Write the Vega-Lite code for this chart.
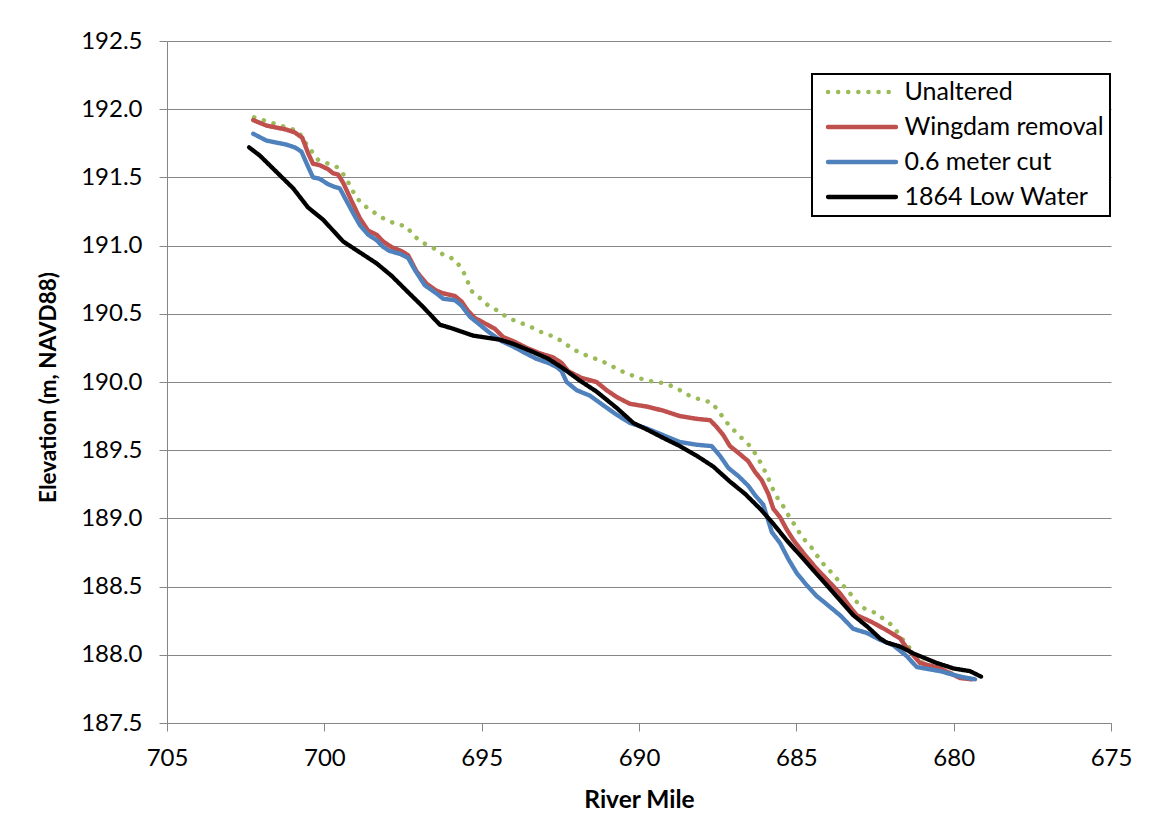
{
  "$schema": "https://vega.github.io/schema/vega-lite/v6.json",
  "width": 944,
  "height": 682,
  "autosize": {"type": "none"},
  "padding": {"left": 167, "top": 41, "right": 38, "bottom": 116},
  "background": "white",
  "config": {
    "view": {"stroke": null},
    "font": "Lato",
    "legend": {
      "orient": "none",
      "legendX": 645,
      "legendY": 33,
      "title": null,
      "strokeColor": "black",
      "strokeWidth": 2,
      "fillColor": "white",
      "padding": 6,
      "clipHeight": 24,
      "rowPadding": 10,
      "symbolType": "stroke",
      "symbolSize": 4624,
      "symbolStrokeWidth": 4.5,
      "symbolOffset": 7.5,
      "labelFontSize": 25,
      "labelColor": "black",
      "labelOffset": 6,
      "labelLimit": 0
    }
  },
  "data": {
    "values": [
      {"series": "Unaltered", "mile": 702.23, "elev": 191.94},
      {"series": "Unaltered", "mile": 701.52, "elev": 191.89},
      {"series": "Unaltered", "mile": 700.83, "elev": 191.84},
      {"series": "Unaltered", "mile": 700.62, "elev": 191.76},
      {"series": "Unaltered", "mile": 700.20, "elev": 191.63},
      {"series": "Unaltered", "mile": 699.54, "elev": 191.57},
      {"series": "Unaltered", "mile": 699.30, "elev": 191.49},
      {"series": "Unaltered", "mile": 698.98, "elev": 191.35},
      {"series": "Unaltered", "mile": 698.71, "elev": 191.29},
      {"series": "Unaltered", "mile": 698.40, "elev": 191.24},
      {"series": "Unaltered", "mile": 698.06, "elev": 191.19},
      {"series": "Unaltered", "mile": 697.73, "elev": 191.16},
      {"series": "Unaltered", "mile": 697.39, "elev": 191.14},
      {"series": "Unaltered", "mile": 697.15, "elev": 191.07},
      {"series": "Unaltered", "mile": 696.86, "elev": 191.02},
      {"series": "Unaltered", "mile": 696.52, "elev": 190.98},
      {"series": "Unaltered", "mile": 696.20, "elev": 190.93},
      {"series": "Unaltered", "mile": 695.87, "elev": 190.90},
      {"series": "Unaltered", "mile": 695.63, "elev": 190.83},
      {"series": "Unaltered", "mile": 695.48, "elev": 190.76},
      {"series": "Unaltered", "mile": 695.34, "elev": 190.67},
      {"series": "Unaltered", "mile": 695.08, "elev": 190.62},
      {"series": "Unaltered", "mile": 694.79, "elev": 190.56},
      {"series": "Unaltered", "mile": 694.47, "elev": 190.52},
      {"series": "Unaltered", "mile": 694.16, "elev": 190.47},
      {"series": "Unaltered", "mile": 693.84, "elev": 190.44},
      {"series": "Unaltered", "mile": 693.49, "elev": 190.41},
      {"series": "Unaltered", "mile": 693.15, "elev": 190.37},
      {"series": "Unaltered", "mile": 692.80, "elev": 190.34},
      {"series": "Unaltered", "mile": 692.45, "elev": 190.30},
      {"series": "Unaltered", "mile": 692.16, "elev": 190.25},
      {"series": "Unaltered", "mile": 691.85, "elev": 190.21},
      {"series": "Unaltered", "mile": 691.49, "elev": 190.18},
      {"series": "Unaltered", "mile": 691.15, "elev": 190.15},
      {"series": "Unaltered", "mile": 690.81, "elev": 190.11},
      {"series": "Unaltered", "mile": 690.47, "elev": 190.07},
      {"series": "Unaltered", "mile": 690.12, "elev": 190.04},
      {"series": "Unaltered", "mile": 689.76, "elev": 190.01},
      {"series": "Unaltered", "mile": 689.40, "elev": 190.00},
      {"series": "Unaltered", "mile": 689.05, "elev": 189.98},
      {"series": "Unaltered", "mile": 688.70, "elev": 189.94},
      {"series": "Unaltered", "mile": 688.40, "elev": 189.90},
      {"series": "Unaltered", "mile": 688.04, "elev": 189.87},
      {"series": "Unaltered", "mile": 687.69, "elev": 189.85},
      {"series": "Unaltered", "mile": 687.45, "elev": 189.78},
      {"series": "Unaltered", "mile": 687.24, "elev": 189.71},
      {"series": "Unaltered", "mile": 687.00, "elev": 189.65},
      {"series": "Unaltered", "mile": 686.74, "elev": 189.59},
      {"series": "Unaltered", "mile": 686.47, "elev": 189.53},
      {"series": "Unaltered", "mile": 686.26, "elev": 189.46},
      {"series": "Unaltered", "mile": 686.07, "elev": 189.38},
      {"series": "Unaltered", "mile": 685.92, "elev": 189.31},
      {"series": "Unaltered", "mile": 685.78, "elev": 189.23},
      {"series": "Unaltered", "mile": 685.60, "elev": 189.15},
      {"series": "Unaltered", "mile": 685.39, "elev": 189.08},
      {"series": "Unaltered", "mile": 685.22, "elev": 189.01},
      {"series": "Unaltered", "mile": 685.02, "elev": 188.94},
      {"series": "Unaltered", "mile": 684.81, "elev": 188.86},
      {"series": "Unaltered", "mile": 684.56, "elev": 188.80},
      {"series": "Unaltered", "mile": 684.35, "elev": 188.73},
      {"series": "Unaltered", "mile": 684.12, "elev": 188.66},
      {"series": "Unaltered", "mile": 683.87, "elev": 188.60},
      {"series": "Unaltered", "mile": 683.61, "elev": 188.53},
      {"series": "Unaltered", "mile": 683.35, "elev": 188.47},
      {"series": "Unaltered", "mile": 683.14, "elev": 188.40},
      {"series": "Unaltered", "mile": 682.84, "elev": 188.34},
      {"series": "Unaltered", "mile": 682.52, "elev": 188.31},
      {"series": "Unaltered", "mile": 682.21, "elev": 188.26},
      {"series": "Unaltered", "mile": 681.92, "elev": 188.21},
      {"series": "Unaltered", "mile": 681.68, "elev": 188.13},
      {"series": "Unaltered", "mile": 681.47, "elev": 188.07},
      {"series": "Unaltered", "mile": 681.07, "elev": 187.95},
      {"series": "Unaltered", "mile": 680.43, "elev": 187.90},
      {"series": "Unaltered", "mile": 679.80, "elev": 187.84},
      {"series": "Unaltered", "mile": 679.42, "elev": 187.82},

      {"series": "Wingdam removal", "mile": 702.26, "elev": 191.92},
      {"series": "Wingdam removal", "mile": 701.84, "elev": 191.88},
      {"series": "Wingdam removal", "mile": 701.20, "elev": 191.85},
      {"series": "Wingdam removal", "mile": 700.94, "elev": 191.83},
      {"series": "Wingdam removal", "mile": 700.70, "elev": 191.79},
      {"series": "Wingdam removal", "mile": 700.52, "elev": 191.68},
      {"series": "Wingdam removal", "mile": 700.36, "elev": 191.60},
      {"series": "Wingdam removal", "mile": 700.15, "elev": 191.59},
      {"series": "Wingdam removal", "mile": 699.88, "elev": 191.56},
      {"series": "Wingdam removal", "mile": 699.72, "elev": 191.53},
      {"series": "Wingdam removal", "mile": 699.56, "elev": 191.52},
      {"series": "Wingdam removal", "mile": 699.40, "elev": 191.46},
      {"series": "Wingdam removal", "mile": 699.14, "elev": 191.33},
      {"series": "Wingdam removal", "mile": 698.87, "elev": 191.20},
      {"series": "Wingdam removal", "mile": 698.61, "elev": 191.11},
      {"series": "Wingdam removal", "mile": 698.34, "elev": 191.08},
      {"series": "Wingdam removal", "mile": 698.13, "elev": 191.03},
      {"series": "Wingdam removal", "mile": 697.87, "elev": 190.99},
      {"series": "Wingdam removal", "mile": 697.55, "elev": 190.96},
      {"series": "Wingdam removal", "mile": 697.34, "elev": 190.93},
      {"series": "Wingdam removal", "mile": 697.07, "elev": 190.81},
      {"series": "Wingdam removal", "mile": 696.75, "elev": 190.72},
      {"series": "Wingdam removal", "mile": 696.44, "elev": 190.67},
      {"series": "Wingdam removal", "mile": 696.22, "elev": 190.65},
      {"series": "Wingdam removal", "mile": 695.85, "elev": 190.63},
      {"series": "Wingdam removal", "mile": 695.64, "elev": 190.59},
      {"series": "Wingdam removal", "mile": 695.43, "elev": 190.52},
      {"series": "Wingdam removal", "mile": 695.22, "elev": 190.47},
      {"series": "Wingdam removal", "mile": 694.90, "elev": 190.43},
      {"series": "Wingdam removal", "mile": 694.58, "elev": 190.39},
      {"series": "Wingdam removal", "mile": 694.32, "elev": 190.33},
      {"series": "Wingdam removal", "mile": 694.00, "elev": 190.30},
      {"series": "Wingdam removal", "mile": 693.57, "elev": 190.25},
      {"series": "Wingdam removal", "mile": 693.15, "elev": 190.21},
      {"series": "Wingdam removal", "mile": 692.73, "elev": 190.18},
      {"series": "Wingdam removal", "mile": 692.46, "elev": 190.14},
      {"series": "Wingdam removal", "mile": 692.25, "elev": 190.08},
      {"series": "Wingdam removal", "mile": 691.83, "elev": 190.03},
      {"series": "Wingdam removal", "mile": 691.35, "elev": 190.00},
      {"series": "Wingdam removal", "mile": 691.03, "elev": 189.94},
      {"series": "Wingdam removal", "mile": 690.71, "elev": 189.89},
      {"series": "Wingdam removal", "mile": 690.29, "elev": 189.84},
      {"series": "Wingdam removal", "mile": 689.76, "elev": 189.82},
      {"series": "Wingdam removal", "mile": 689.23, "elev": 189.79},
      {"series": "Wingdam removal", "mile": 688.70, "elev": 189.75},
      {"series": "Wingdam removal", "mile": 688.17, "elev": 189.73},
      {"series": "Wingdam removal", "mile": 687.74, "elev": 189.72},
      {"series": "Wingdam removal", "mile": 687.53, "elev": 189.67},
      {"series": "Wingdam removal", "mile": 687.32, "elev": 189.61},
      {"series": "Wingdam removal", "mile": 687.11, "elev": 189.53},
      {"series": "Wingdam removal", "mile": 686.84, "elev": 189.48},
      {"series": "Wingdam removal", "mile": 686.53, "elev": 189.42},
      {"series": "Wingdam removal", "mile": 686.31, "elev": 189.34},
      {"series": "Wingdam removal", "mile": 686.10, "elev": 189.28},
      {"series": "Wingdam removal", "mile": 685.89, "elev": 189.18},
      {"series": "Wingdam removal", "mile": 685.73, "elev": 189.07},
      {"series": "Wingdam removal", "mile": 685.52, "elev": 189.01},
      {"series": "Wingdam removal", "mile": 685.31, "elev": 188.92},
      {"series": "Wingdam removal", "mile": 685.09, "elev": 188.84},
      {"series": "Wingdam removal", "mile": 684.72, "elev": 188.73},
      {"series": "Wingdam removal", "mile": 684.35, "elev": 188.63},
      {"series": "Wingdam removal", "mile": 683.98, "elev": 188.54},
      {"series": "Wingdam removal", "mile": 683.61, "elev": 188.45},
      {"series": "Wingdam removal", "mile": 683.29, "elev": 188.35},
      {"series": "Wingdam removal", "mile": 683.08, "elev": 188.29},
      {"series": "Wingdam removal", "mile": 682.60, "elev": 188.24},
      {"series": "Wingdam removal", "mile": 682.13, "elev": 188.18},
      {"series": "Wingdam removal", "mile": 681.70, "elev": 188.12},
      {"series": "Wingdam removal", "mile": 681.49, "elev": 188.05},
      {"series": "Wingdam removal", "mile": 681.07, "elev": 187.94},
      {"series": "Wingdam removal", "mile": 680.43, "elev": 187.90},
      {"series": "Wingdam removal", "mile": 679.80, "elev": 187.83},
      {"series": "Wingdam removal", "mile": 679.42, "elev": 187.82},

      {"series": "0.6 meter cut", "mile": 702.26, "elev": 191.82},
      {"series": "0.6 meter cut", "mile": 701.84, "elev": 191.77},
      {"series": "0.6 meter cut", "mile": 701.20, "elev": 191.74},
      {"series": "0.6 meter cut", "mile": 700.94, "elev": 191.72},
      {"series": "0.6 meter cut", "mile": 700.73, "elev": 191.69},
      {"series": "0.6 meter cut", "mile": 700.52, "elev": 191.58},
      {"series": "0.6 meter cut", "mile": 700.36, "elev": 191.50},
      {"series": "0.6 meter cut", "mile": 700.15, "elev": 191.49},
      {"series": "0.6 meter cut", "mile": 699.88, "elev": 191.45},
      {"series": "0.6 meter cut", "mile": 699.67, "elev": 191.43},
      {"series": "0.6 meter cut", "mile": 699.51, "elev": 191.42},
      {"series": "0.6 meter cut", "mile": 699.30, "elev": 191.33},
      {"series": "0.6 meter cut", "mile": 699.09, "elev": 191.24},
      {"series": "0.6 meter cut", "mile": 698.87, "elev": 191.15},
      {"series": "0.6 meter cut", "mile": 698.61, "elev": 191.08},
      {"series": "0.6 meter cut", "mile": 698.34, "elev": 191.04},
      {"series": "0.6 meter cut", "mile": 698.13, "elev": 190.99},
      {"series": "0.6 meter cut", "mile": 697.92, "elev": 190.96},
      {"series": "0.6 meter cut", "mile": 697.60, "elev": 190.94},
      {"series": "0.6 meter cut", "mile": 697.34, "elev": 190.91},
      {"series": "0.6 meter cut", "mile": 697.12, "elev": 190.82},
      {"series": "0.6 meter cut", "mile": 696.81, "elev": 190.71},
      {"series": "0.6 meter cut", "mile": 696.44, "elev": 190.65},
      {"series": "0.6 meter cut", "mile": 696.22, "elev": 190.61},
      {"series": "0.6 meter cut", "mile": 695.85, "elev": 190.60},
      {"series": "0.6 meter cut", "mile": 695.64, "elev": 190.56},
      {"series": "0.6 meter cut", "mile": 695.38, "elev": 190.48},
      {"series": "0.6 meter cut", "mile": 695.06, "elev": 190.42},
      {"series": "0.6 meter cut", "mile": 694.74, "elev": 190.36},
      {"series": "0.6 meter cut", "mile": 694.37, "elev": 190.30},
      {"series": "0.6 meter cut", "mile": 694.00, "elev": 190.26},
      {"series": "0.6 meter cut", "mile": 693.68, "elev": 190.22},
      {"series": "0.6 meter cut", "mile": 693.26, "elev": 190.17},
      {"series": "0.6 meter cut", "mile": 692.88, "elev": 190.14},
      {"series": "0.6 meter cut", "mile": 692.62, "elev": 190.11},
      {"series": "0.6 meter cut", "mile": 692.46, "elev": 190.08},
      {"series": "0.6 meter cut", "mile": 692.30, "elev": 190.00},
      {"series": "0.6 meter cut", "mile": 691.98, "elev": 189.94},
      {"series": "0.6 meter cut", "mile": 691.56, "elev": 189.90},
      {"series": "0.6 meter cut", "mile": 691.14, "elev": 189.83},
      {"series": "0.6 meter cut", "mile": 690.71, "elev": 189.76},
      {"series": "0.6 meter cut", "mile": 690.29, "elev": 189.70},
      {"series": "0.6 meter cut", "mile": 689.76, "elev": 189.66},
      {"series": "0.6 meter cut", "mile": 689.23, "elev": 189.61},
      {"series": "0.6 meter cut", "mile": 688.70, "elev": 189.56},
      {"series": "0.6 meter cut", "mile": 688.17, "elev": 189.54},
      {"series": "0.6 meter cut", "mile": 687.69, "elev": 189.53},
      {"series": "0.6 meter cut", "mile": 687.43, "elev": 189.46},
      {"series": "0.6 meter cut", "mile": 687.16, "elev": 189.37},
      {"series": "0.6 meter cut", "mile": 686.84, "elev": 189.31},
      {"series": "0.6 meter cut", "mile": 686.53, "elev": 189.24},
      {"series": "0.6 meter cut", "mile": 686.31, "elev": 189.17},
      {"series": "0.6 meter cut", "mile": 686.05, "elev": 189.10},
      {"series": "0.6 meter cut", "mile": 685.78, "elev": 188.90},
      {"series": "0.6 meter cut", "mile": 685.52, "elev": 188.82},
      {"series": "0.6 meter cut", "mile": 685.25, "elev": 188.70},
      {"series": "0.6 meter cut", "mile": 684.99, "elev": 188.60},
      {"series": "0.6 meter cut", "mile": 684.67, "elev": 188.51},
      {"series": "0.6 meter cut", "mile": 684.35, "elev": 188.43},
      {"series": "0.6 meter cut", "mile": 684.03, "elev": 188.37},
      {"series": "0.6 meter cut", "mile": 683.61, "elev": 188.29},
      {"series": "0.6 meter cut", "mile": 683.19, "elev": 188.19},
      {"series": "0.6 meter cut", "mile": 682.76, "elev": 188.16},
      {"series": "0.6 meter cut", "mile": 682.34, "elev": 188.11},
      {"series": "0.6 meter cut", "mile": 681.92, "elev": 188.07},
      {"series": "0.6 meter cut", "mile": 681.49, "elev": 187.99},
      {"series": "0.6 meter cut", "mile": 681.17, "elev": 187.91},
      {"series": "0.6 meter cut", "mile": 680.43, "elev": 187.88},
      {"series": "0.6 meter cut", "mile": 679.80, "elev": 187.84},
      {"series": "0.6 meter cut", "mile": 679.32, "elev": 187.82},

      {"series": "1864 Low Water", "mile": 702.39, "elev": 191.72},
      {"series": "1864 Low Water", "mile": 702.05, "elev": 191.66},
      {"series": "1864 Low Water", "mile": 701.52, "elev": 191.54},
      {"series": "1864 Low Water", "mile": 700.99, "elev": 191.42},
      {"series": "1864 Low Water", "mile": 700.52, "elev": 191.28},
      {"series": "1864 Low Water", "mile": 700.04, "elev": 191.19},
      {"series": "1864 Low Water", "mile": 699.40, "elev": 191.03},
      {"series": "1864 Low Water", "mile": 698.87, "elev": 190.95},
      {"series": "1864 Low Water", "mile": 698.34, "elev": 190.87},
      {"series": "1864 Low Water", "mile": 697.87, "elev": 190.78},
      {"series": "1864 Low Water", "mile": 697.39, "elev": 190.67},
      {"series": "1864 Low Water", "mile": 696.86, "elev": 190.55},
      {"series": "1864 Low Water", "mile": 696.33, "elev": 190.42},
      {"series": "1864 Low Water", "mile": 695.90, "elev": 190.39},
      {"series": "1864 Low Water", "mile": 695.27, "elev": 190.34},
      {"series": "1864 Low Water", "mile": 694.42, "elev": 190.31},
      {"series": "1864 Low Water", "mile": 694.00, "elev": 190.28},
      {"series": "1864 Low Water", "mile": 693.47, "elev": 190.23},
      {"series": "1864 Low Water", "mile": 692.88, "elev": 190.17},
      {"series": "1864 Low Water", "mile": 692.41, "elev": 190.10},
      {"series": "1864 Low Water", "mile": 691.88, "elev": 190.01},
      {"series": "1864 Low Water", "mile": 691.35, "elev": 189.93},
      {"series": "1864 Low Water", "mile": 690.71, "elev": 189.81},
      {"series": "1864 Low Water", "mile": 690.18, "elev": 189.70},
      {"series": "1864 Low Water", "mile": 689.65, "elev": 189.64},
      {"series": "1864 Low Water", "mile": 689.23, "elev": 189.59},
      {"series": "1864 Low Water", "mile": 688.70, "elev": 189.53},
      {"series": "1864 Low Water", "mile": 688.17, "elev": 189.46},
      {"series": "1864 Low Water", "mile": 687.64, "elev": 189.38},
      {"series": "1864 Low Water", "mile": 687.11, "elev": 189.27},
      {"series": "1864 Low Water", "mile": 686.63, "elev": 189.18},
      {"series": "1864 Low Water", "mile": 686.15, "elev": 189.07},
      {"series": "1864 Low Water", "mile": 685.73, "elev": 188.96},
      {"series": "1864 Low Water", "mile": 685.31, "elev": 188.84},
      {"series": "1864 Low Water", "mile": 684.88, "elev": 188.73},
      {"series": "1864 Low Water", "mile": 684.46, "elev": 188.62},
      {"series": "1864 Low Water", "mile": 684.03, "elev": 188.51},
      {"series": "1864 Low Water", "mile": 683.61, "elev": 188.40},
      {"series": "1864 Low Water", "mile": 683.19, "elev": 188.29},
      {"series": "1864 Low Water", "mile": 682.76, "elev": 188.21},
      {"series": "1864 Low Water", "mile": 682.34, "elev": 188.12},
      {"series": "1864 Low Water", "mile": 682.13, "elev": 188.09},
      {"series": "1864 Low Water", "mile": 681.70, "elev": 188.06},
      {"series": "1864 Low Water", "mile": 681.28, "elev": 188.01},
      {"series": "1864 Low Water", "mile": 680.96, "elev": 187.98},
      {"series": "1864 Low Water", "mile": 680.54, "elev": 187.94},
      {"series": "1864 Low Water", "mile": 680.01, "elev": 187.90},
      {"series": "1864 Low Water", "mile": 679.48, "elev": 187.88},
      {"series": "1864 Low Water", "mile": 679.13, "elev": 187.84}
    ]
  },
  "mark": {"type": "line", "strokeCap": "round", "strokeJoin": "round"},
  "encoding": {
    "x": {
      "field": "mile",
      "type": "quantitative",
      "scale": {"domain": [675, 705], "reverse": true, "nice": false, "zero": false},
      "axis": {
        "values": [705, 700, 695, 690, 685, 680, 675],
        "format": "d",
        "grid": false,
        "domainColor": "#868686",
        "tickColor": "#868686",
        "tickSize": 8,
        "labelFontSize": 24,
        "labelColor": "black",
        "labelPadding": 15,
        "labelFlush": false,
        "title": "River Mile",
        "titleFontSize": 24.5,
        "titleFontWeight": "bold",
        "titleColor": "black",
        "titleX": 472,
        "titleY": 84,
        "titleBaseline": "alphabetic"
      }
    },
    "y": {
      "field": "elev",
      "type": "quantitative",
      "scale": {"domain": [187.5, 192.5], "nice": false, "zero": false},
      "axis": {
        "values": [187.5, 188, 188.5, 189, 189.5, 190, 190.5, 191, 191.5, 192, 192.5],
        "format": ".1f",
        "grid": true,
        "gridColor": "#868686",
        "gridWidth": 1,
        "domainColor": "#868686",
        "tickColor": "#868686",
        "tickSize": 8,
        "labelFontSize": 24,
        "labelColor": "black",
        "labelPadding": 17,
        "labelFlush": false,
        "title": "Elevation (m, NAVD88)",
        "titleFontSize": 22.5,
        "titleFontWeight": "bold",
        "titleColor": "black",
        "titleAngle": 270,
        "titleX": -112,
        "titleY": 346,
        "titleAlign": "center",
        "titleBaseline": "alphabetic"
      }
    },
    "color": {
      "field": "series",
      "type": "nominal",
      "sort": null,
      "scale": {
        "domain": ["Unaltered", "Wingdam removal", "0.6 meter cut", "1864 Low Water"],
        "range": ["#9BBB59", "#C0504D", "#4F81BD", "#000000"]
      },
      "legend": {"encode": {"symbols": {"update": {"strokeCap": {"value": "round"}}}}}
    },
    "strokeDash": {
      "field": "series",
      "type": "nominal",
      "scale": {
        "domain": ["Unaltered", "Wingdam removal", "0.6 meter cut", "1864 Low Water"],
        "range": [[0.1, 10], [1, 0], [1, 0], [1, 0]]
      },
      "legend": {"encode": {"symbols": {"update": {"strokeCap": {"value": "round"}}}}}
    },
    "strokeWidth": {
      "field": "series",
      "type": "nominal",
      "scale": {
        "domain": ["Unaltered", "Wingdam removal", "0.6 meter cut", "1864 Low Water"],
        "range": [4.5, 4.3, 4.3, 5]
      },
      "legend": {"encode": {"symbols": {"update": {"strokeCap": {"value": "round"}}}}}
    }
  }
}
